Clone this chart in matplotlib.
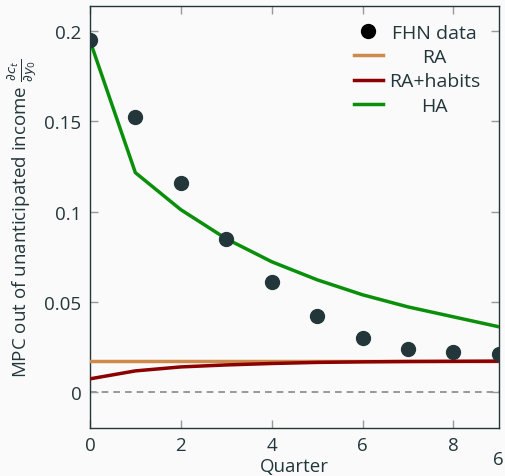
import matplotlib
matplotlib.use("Agg")
import matplotlib.pyplot as plt
import numpy as np

# --- data ---
quarters = np.arange(10)
fhn_data = [0.1947, 0.1526, 0.1160, 0.0850, 0.0612, 0.0424, 0.0302, 0.0240, 0.0224, 0.0213]
ra = [0.0175] * 10
ra_habits = [0.0075, 0.0119, 0.0141, 0.0152, 0.0160, 0.0166, 0.0169, 0.0171, 0.0172, 0.0173]
ha = [0.1947, 0.1216, 0.1011, 0.0850, 0.0723, 0.0623, 0.0540, 0.0473, 0.0418, 0.0363]

txt = "#23373b"
bg = "#fafafa"

plt.rcParams['font.family'] = ['Open Sans', 'DejaVu Sans']
plt.rcParams['mathtext.fontset'] = 'dejavusans'

fig = plt.figure(figsize=(5.05, 4.77), dpi=100, facecolor=bg)
ax = fig.add_axes([0.178, 0.1006, 0.810, 0.8844], facecolor=bg)

ax.axhline(0, color="#888888", lw=1.2, ls=(0, (4, 3)), zorder=1)
ax.plot(quarters, fhn_data, 'o', color=txt, ms=10, label="FHN data", zorder=5)
ax.plot(quarters, ra, color="#cd8a4c", lw=2.5, label="RA", zorder=3)
ax.plot(quarters, ra_habits, color="#8b0000", lw=2.5, label="RA+habits", zorder=4)
ax.plot(quarters, ha, color="#0a8f0a", lw=2.5, label="HA", zorder=3)

ax.set_xlim(0, 9)
ax.set_ylim(-0.0197, 0.2137)
ax.set_xticks([0, 2, 4, 6, 8])
ax.set_xticklabels(["0", "2", "4", "6", "8"])
ax.set_yticks([0, 0.05, 0.1, 0.15, 0.2])
ax.set_yticklabels(["0", "0.05", "0.1", "0.15", "0.2"])
ax.tick_params(direction='in', top=True, right=True, length=6, width=1,
               color="#999999", labelcolor=txt, labelsize=13.5, pad=6)
for s in ax.spines.values():
    s.set_color(txt)
    s.set_linewidth(1.0)

ax.set_xlabel("Quarter", color=txt, fontsize=13.5, labelpad=2)
ax.set_ylabel(r"MPC out of unanticipated income $\frac{\partial c_t}{\partial y_0}$",
              color=txt, fontsize=13.5, labelpad=4)

leg = ax.legend(loc="upper right", frameon=False, fontsize=14, handlelength=1.5,
                labelspacing=0.32, borderaxespad=0.3, handletextpad=0.3,
                bbox_to_anchor=(0.987, 0.99))
leg.legend_handles[0].set_color("black")
for t in leg.get_texts():
    t.set_color(txt)

# centre the legend labels in their column
fig.canvas.draw()
rend = fig.canvas.get_renderer()
widths = [t.get_window_extent(rend).width for t in leg.get_texts()]
maxw = max(widths)
for t, w in zip(leg.get_texts(), widths):
    t.set_x((maxw - w) / 2)

fig.text(0.998, 0.036, "6", color=txt, fontsize=13.5, ha="right", va="center")

fig.savefig("out.png", dpi=100, facecolor=bg)
